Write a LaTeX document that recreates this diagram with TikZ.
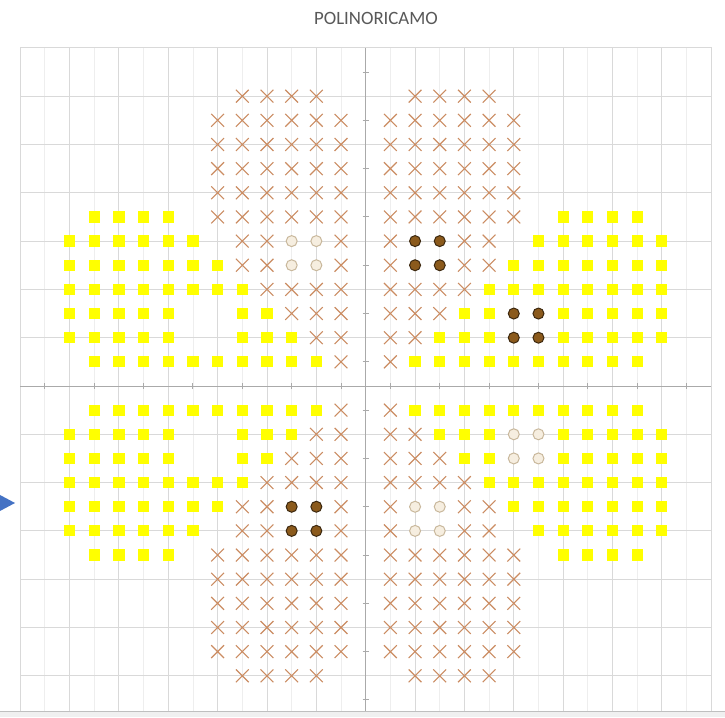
\documentclass[tikz,border=0pt]{standalone}
\usepackage{fontspec}
\setmainfont{Carlito}
\definecolor{xcol}{RGB}{203,140,98}
\definecolor{sqcol}{RGB}{255,255,0}
\definecolor{darkfill}{RGB}{139,90,28}
\definecolor{darkedge}{RGB}{60,40,15}
\definecolor{holfill}{RGB}{246,238,224}
\definecolor{holedge}{RGB}{201,184,156}
\definecolor{majgrid}{RGB}{217,217,217}
\definecolor{mingrid}{RGB}{238,238,238}
\definecolor{axiscol}{RGB}{170,170,170}
\definecolor{titlegray}{RGB}{89,89,89}
\definecolor{bluetri}{RGB}{68,114,196}
\tikzset{
  majline/.style={draw=majgrid, line width=0.9pt},
  minline/.style={draw=mingrid, line width=0.8pt},
  axisline/.style={draw=axiscol, line width=0.9pt},
  xm/.pic={\draw[xcol, line width=1.1pt] (-6.4pt,-6.4pt) -- (6.4pt,6.4pt) (-6.4pt,6.4pt) -- (6.4pt,-6.4pt);},
  sqm/.pic={\fill[sqcol] (-5.6pt,-5.6pt) rectangle (5.6pt,5.6pt);},
  darkm/.pic={\filldraw[fill=darkfill, draw=darkedge, line width=1pt] (0,0) circle[radius=5.5pt];},
  holm/.pic={\filldraw[fill=holfill, draw=holedge, line width=1pt] (0,0) circle[radius=5.5pt];}
}
\begin{document}
\begin{tikzpicture}[x=1pt,y=1pt]
\useasboundingbox (0,0) rectangle (725,717);
\fill[white] (0,0) rectangle (725,717);
\node[text=titlegray, font=\fontsize{18.8}{20}\selectfont, inner sep=0pt] (title) at (376,699) {POLINORICAMO};
\fill[bluetri] (0,222) -- (15,214) -- (0,206) -- cycle;
\fill[black!6] (0,0) rectangle (725,6);
\draw[black!25, line width=1pt] (0,6) -- (725,6);
\begin{scope}[shift={(365.7pt,331pt)}, x=24.68pt, y=24.15pt]
  \clip (-14.3,-13.45) rectangle (14.3,14.3);
  % gridlines
  \foreach \u in {-13,-11,...,13} \draw[minline] (\u,-13.45) -- (\u,14);
  \foreach \u in {-12,-10,...,12} \draw[majline] (\u,-13.45) -- (\u,14);
  \foreach \v in {-12,-10,...,12} \draw[majline] (-14,\v) -- (14,\v);
  \draw[majline] (-14,-13.45) -- (-14,14) -- (14,14) -- (14,-13.45);
  % axes
  \draw[axisline] (0,-13.45) -- (0,14);
  \draw[axisline] (-14,0) -- (14,0);
  \foreach \v in {-13,-11,...,13} \draw[axisline] (0,\v) ++(-3pt,0) -- ++(6pt,0);
  \foreach \u in {-13,-11,...,13} \draw[axisline] (\u,0) ++(0,-3pt) -- ++(0,6pt);
  % crosses and squares
  \foreach \sx in {-1,1} \foreach \sy in {-1,1} {
    \foreach \b/\lo/\hi in {12/2/5, 11/1/6, 10/1/6, 9/1/6, 8/1/6, 7/1/6, 6/1/1, 6/4/5, 5/1/1, 5/4/5, 4/1/4, 3/1/3, 2/1/2, 1/1/1}
      \foreach \a in {\lo,...,\hi} \pic at ({\sx*\a},{\sy*\b}) {xm};
    \foreach \b/\lo/\hi in {7/8/11, 6/7/12, 5/6/12, 4/5/12, 3/4/5, 3/8/12, 2/3/5, 2/8/12, 1/2/11}
      \foreach \a in {\lo,...,\hi} \pic at ({\sx*\a},{\sy*\b}) {sqm};
  }
  % circles
  \foreach \p in {(-2,5),(-3,5),(-2,6),(-3,6),(2,-5),(3,-5),(2,-6),(3,-6),(6,-2),(7,-2),(6,-3),(7,-3)}
    \pic at \p {holm};
  \foreach \p in {(2,5),(3,5),(2,6),(3,6),(6,2),(7,2),(6,3),(7,3),(-2,-5),(-3,-5),(-2,-6),(-3,-6)}
    \pic at \p {darkm};
\end{scope}
\end{tikzpicture}
\end{document}
